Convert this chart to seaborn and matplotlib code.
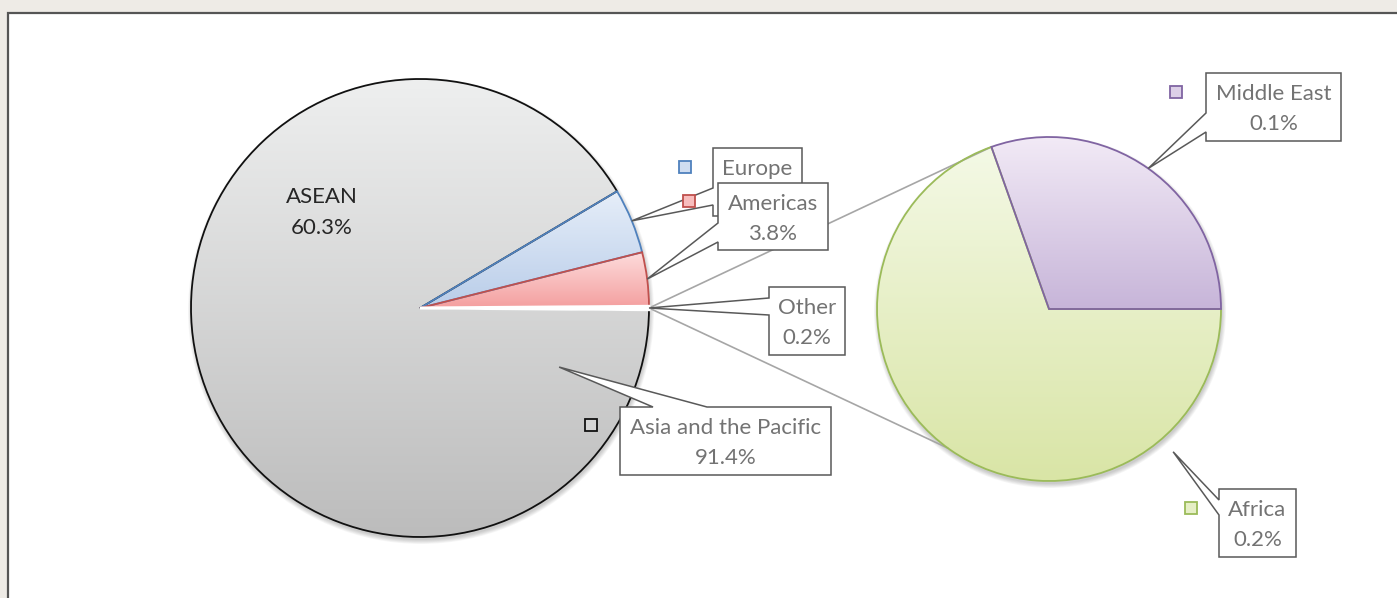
import numpy as np
import matplotlib
matplotlib.use("Agg")
import matplotlib.pyplot as plt
import seaborn as sns
from matplotlib.colors import LinearSegmentedColormap
from matplotlib.patches import Rectangle, Polygon, Circle

# data (percent of total)
main_labels = ["Other", "Americas", "Europe", "Asia and the Pacific"]
main_values = [0.23, 3.8, 4.6, 91.4]
sub_labels = ["Middle East", "Africa"]
sub_values = [0.07, 0.16]
inner_label = "ASEAN"
inner_value = 60.3

# gradient top / bottom and outline colours
tops = {"Asia and the Pacific": "#eeefef", "Europe": "#e6eef9", "Americas": "#fddcdc",
        "Middle East": "#f2eaf6", "Africa": "#f4f9e6"}
bottoms = {"Asia and the Pacific": "#bcbcbc", "Europe": "#b9cde9", "Americas": "#f49f9f",
           "Middle East": "#c7b5d9", "Africa": "#d9e5a6"}
edges = {"Asia and the Pacific": "#111111", "Europe": "#4f81bd", "Americas": "#c0504d",
         "Middle East": "#8064a2", "Africa": "#9bbb59"}
# outline stacking: which slice edge is drawn on top at shared borders
edge_z = {"Asia and the Pacific": 2.0, "Europe": 2.1, "Americas": 2.2,
          "Africa": 2.0, "Middle East": 2.1}

W, H = 1397, 598
sns.set_theme(style="white")
plt.rcParams["font.family"] = ["Lato", "DejaVu Sans"]

fig = plt.figure(figsize=(W / 100, H / 100), dpi=100, facecolor="#eeebe6")
ax = fig.add_axes([0, 0, 1, 1])


def Y(py):
    return H - py


# chart frame
ax.add_patch(Rectangle((8, -20), W + 20, Y(13) + 20, facecolor="white",
                       edgecolor="#555555", lw=1.6, zorder=0))

CX1, CY1, R1 = 420, 308, 229
CX2, CY2, R2 = 1049, 309, 172


def shadow(cx, cy, r):
    for k in range(6):
        ax.add_patch(Circle((cx + 1, Y(cy + 3)), r + k * 0.8, facecolor="#000000",
                            edgecolor="none", alpha=0.035, zorder=0.5))


def shade(patch, name):
    bb = patch.get_path().get_extents()
    cmap = LinearSegmentedColormap.from_list(name, [tops[name], bottoms[name]])
    img = ax.imshow(np.linspace(0, 1, 256).reshape(-1, 1), cmap=cmap, origin="upper",
                    extent=(bb.x0, bb.x1, bb.y0, bb.y1), aspect="auto",
                    interpolation="bilinear", zorder=1)
    img.set_clip_path(patch)
    patch.set_facecolor("none")
    patch.set_edgecolor(edges[name])
    patch.set_zorder(edge_z[name])


shadow(CX1, CY1, R1)
shadow(CX2, CY2, R2)

total = sum(main_values)
start = -main_values[0] / total * 360 / 2
wedges1, _ = ax.pie(main_values, startangle=start, radius=R1, center=(CX1, Y(CY1)),
                    wedgeprops=dict(linewidth=1.3))
for w, name in zip(wedges1, main_labels):
    if name == "Other":
        w.set_facecolor("white")
        w.set_edgecolor("white")
        w.set_linewidth(2.2)
        w.set_zorder(3)
    else:
        shade(w, name)

wedges2, _ = ax.pie(sub_values, startangle=0, radius=R2, center=(CX2, Y(CY2)),
                    wedgeprops=dict(linewidth=1.3))
for w, name in zip(wedges2, sub_labels):
    shade(w, name)


def point(cx, cy, r, ang, frac=1.0):
    a = np.deg2rad(ang)
    return cx + r * frac * np.cos(a), cy - r * frac * np.sin(a)


def mid(w):
    return (w.theta1 + w.theta2) / 2


# series lines between the pies
ox, oy = point(CX1, CY1, R1, 0)
for ang in [wedges2[0].theta2, 234]:
    px, py = point(CX2, CY2, R2, ang)
    ax.plot([ox, px], [Y(oy), Y(py)], color="#a6a6a6", lw=1.2, zorder=1.5)


def callout(box, side, a, b, tip, z):
    x0, y0, x1, y1 = box
    if side == "left":
        pts = [(x0, y0), (x1, y0), (x1, y1), (x0, y1), (x0, b), tip, (x0, a)]
    else:
        pts = [(x0, y0), (a, y0), tip, (b, y0), (x1, y0), (x1, y1), (x0, y1)]
    ax.add_patch(Polygon([(x, Y(y)) for x, y in pts], closed=True, facecolor="white",
                         edgecolor="#595959", lw=1.1, joinstyle="miter", zorder=z))


def label(box, name, value, z):
    x0, y0, x1, y1 = box
    xc = (x0 + x1) / 2
    ax.text(xc, Y(y0 + 21), name, ha="center", va="center", fontsize=16,
            color="#737373", zorder=z)
    if value is not None:
        ax.text(xc, Y(y0 + 51), f"{value:.1f}%", ha="center", va="center", fontsize=16,
                color="#737373", zorder=z)


def key(cx, cy, name, z):
    ax.add_patch(Rectangle((cx - 6, Y(cy) - 6), 12, 12,
                           facecolor=sns.blend_palette([tops[name], bottoms[name]], 3)[1],
                           edgecolor=edges[name], lw=1.3, zorder=z))


w_by = dict(zip(main_labels, wedges1))
w_by.update(zip(sub_labels, wedges2))
vals = dict(zip(main_labels, main_values))
vals.update(zip(sub_labels, sub_values))
# the Europe value sits under the Americas callout in the original, so only its name shows
vals["Europe"] = None

specs = [
    ("Europe", (713, 148, 802, 216), "left", 188, 205, point(CX1, CY1, R1, mid(w_by["Europe"])), (685, 167)),
    ("Americas", (718, 183, 828, 250), "left", 223, 242, point(CX1, CY1, R1, mid(w_by["Americas"])), (689, 201)),
    ("Other", (769, 287, 845, 355), "left", 298, 315, point(CX1, CY1, R1, mid(w_by["Other"])), None),
    ("Asia and the Pacific", (620, 407, 831, 475), "top", 653, 707, point(CX1, CY1, R1, -23, 0.66), (591, 425)),
    ("Middle East", (1206, 73, 1341, 141), "left", 113, 132, point(CX2, CY2, R2, mid(w_by["Middle East"])), (1176, 92)),
    ("Africa", (1219, 489, 1296, 557), "left", 500, 515, point(CX2, CY2, R2, -49, 1.1), (1191, 508)),
]
z = 5
for name, box, side, a, b, tip, kpos in specs:
    callout(box, side, a, b, tip, z)
    label(box, name, vals[name], z + 0.5)
    if kpos is not None:
        key(kpos[0], kpos[1], name, z + 0.8)
    z += 1

ax.text(322, Y(197), inner_label, ha="center", va="center", fontsize=16, color="#262626", zorder=4)
ax.text(322, Y(228), f"{inner_value:.1f}%", ha="center", va="center", fontsize=16,
        color="#262626", zorder=4)

ax.set_xlim(0, W)
ax.set_ylim(0, H)
ax.set_aspect("auto")
ax.axis("off")
fig.savefig("out.png", dpi=100, facecolor=fig.get_facecolor())
